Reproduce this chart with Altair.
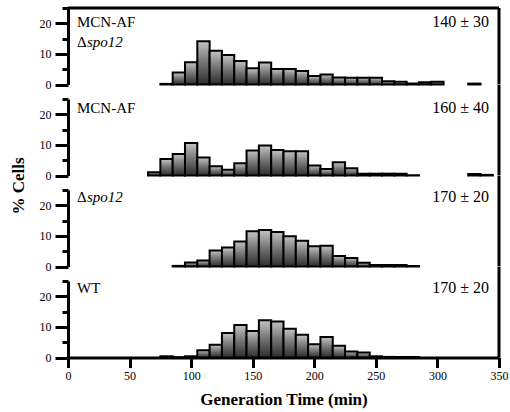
import altair as alt
import pandas as pd

# ---------------- data ----------------
centers_1 = [80, 90, 100, 110, 120, 130, 140, 150, 160, 170, 180, 190, 200, 210,
             220, 230, 240, 250, 260, 270, 280, 290, 300, 330]
values_1 = [0.2, 3.9, 7.3, 14.1, 11.0, 9.6, 7.7, 5.3, 7.2, 5.1, 5.1, 4.4, 2.8, 3.3,
            2.3, 2.2, 2.2, 2.2, 1.1, 0.9, 0.3, 0.7, 0.9, 0.3]

centers_2 = [70, 80, 90, 100, 110, 120, 130, 140, 150, 160, 170, 180, 190, 200,
             210, 220, 230, 240, 250, 260, 270, 280, 330, 340]
values_2 = [1.1, 5.4, 7.0, 10.6, 5.9, 3.0, 1.9, 4.0, 8.2, 9.8, 8.3, 7.9, 7.9, 3.3,
            2.1, 4.3, 2.4, 0.6, 0.6, 0.6, 0.6, 0.1, 0.5, 0.2]

centers_3 = [90, 100, 110, 120, 130, 140, 150, 160, 170, 180, 190, 200, 210, 220,
             230, 240, 250, 260, 270, 280]
values_3 = [0.2, 1.3, 2.0, 5.2, 6.2, 8.2, 11.5, 11.9, 11.3, 9.9, 8.4, 6.6, 6.8, 3.4,
            2.8, 1.2, 0.5, 0.5, 0.5, 0.2]

centers_4 = [80, 90, 100, 110, 120, 130, 140, 150, 160, 170, 180, 190, 200, 210,
             220, 230, 240, 250, 260, 270, 280]
values_4 = [0.4, 0.1, 0.4, 2.4, 4.2, 8.0, 10.6, 8.7, 12.2, 11.8, 9.4, 7.4, 4.3, 6.7,
            3.8, 2.0, 1.6, 0.4, 0.2, 0.2, 0.2]

panel_labels = [["MCN-AF", "Δspo12"], ["MCN-AF"], ["Δspo12"], ["WT"]]
panel_stats = ["140 ± 30", "160 ± 40", "170 ± 20", "170 ± 20"]
x_ticks = [0, 50, 100, 150, 200, 250, 300, 350]
y_ticks = [0, 5, 10, 15, 20, 25]
x_title = "Generation Time (min)"
y_title = "% Cells"
bin_width = 10

# ---------------- layout / style ----------------
W = 431
H = 76.5
GAP = 14
FONT = "Liberation Serif"
label_y = [19, 13.5, 12, 12]

grad = alt.Gradient(
    gradient="linear",
    stops=[alt.GradientStop(color="#c4c4c4", offset=0),
           alt.GradientStop(color="#7a7a7a", offset=0.45),
           alt.GradientStop(color="#2c2c2c", offset=1)],
    x1=0, x2=0, y1=0, y2=1,
)


def y_axis():
    return alt.Axis(
        values=y_ticks,
        labelExpr="datum.value % 10 === 0 ? datum.label : ''",
        tickSize={"condition": {"test": "datum.value % 10 === 0", "value": 13}, "value": 6},
        tickWidth=3, domainWidth=3, tickColor="black", domainColor="black",
        labelFont=FONT, labelFontSize=12, labelColor="black", labelPadding=4,
        labelFlush=False, grid=False, title=None,
    )


def x_axis():
    return alt.Axis(
        values=x_ticks, tickSize=10, tickWidth=3, domainWidth=3,
        tickColor="black", domainColor="black",
        labelFont=FONT, labelFontSize=12, labelColor="black", labelPadding=3,
        labelFlush=False, grid=False, title=x_title, titleFont=FONT, titleFontSize=17,
        titleFontWeight="bold", titleColor="black", titlePadding=10,
    )


def panel(i, centers, values):
    bottom = i == 3
    df = pd.DataFrame({"center": centers, "value": values})
    bars = alt.Chart(df).transform_calculate(
        lo=f"datum.center - {bin_width / 2}", hi=f"datum.center + {bin_width / 2}"
    ).mark_bar(fill=grad, stroke="black", strokeWidth=2).encode(
        x=alt.X("lo:Q", scale=alt.Scale(domain=[0, 350], nice=False, zero=False),
                axis=x_axis() if bottom else None, title=x_title if bottom else None),
        x2="hi:Q",
        y=alt.Y("value:Q", scale=alt.Scale(domain=[0, 25], nice=False), axis=y_axis()),
        y2=alt.datum(0),
    )
    layers = [bars]
    one = pd.DataFrame({"a": [0]})
    # frame: right border (continuous through the gaps) and top border on first panel
    top = 0 if i == 0 else -GAP
    layers.append(alt.Chart(one).mark_rule(color="black", strokeWidth=3).encode(
        x=alt.value(W), y=alt.value(top), y2=alt.value(H)))
    if i == 0:
        layers.append(alt.Chart(one).mark_rule(color="black", strokeWidth=3).encode(
            x=alt.value(0), x2=alt.value(W), y=alt.value(0)))
    # labels
    for j, line in enumerate(panel_labels[i]):
        yy = label_y[i] + j * 20
        if line.startswith("Δ"):
            parts = [(line[0], "normal", 9), (line[1:], "italic", 19)]
        else:
            parts = [(line, "normal", 9)]
        for txt, style, xx in parts:
            layers.append(alt.Chart(pd.DataFrame({"t": [txt]})).mark_text(
                font=FONT, fontSize=15, fontStyle=style, align="left",
                baseline="alphabetic", color="black",
            ).encode(text="t:N", x=alt.value(xx), y=alt.value(yy)))
    layers.append(alt.Chart(pd.DataFrame({"t": [panel_stats[i]]})).mark_text(
        font=FONT, fontSize=16, align="right", baseline="alphabetic", color="black",
    ).encode(text="t:N", x=alt.value(W - 10), y=alt.value(label_y[i])))
    if i == 1:
        layers.append(alt.Chart(pd.DataFrame({"t": [y_title]})).mark_text(
            font=FONT, fontSize=17, fontWeight="bold", angle=270, align="center",
            baseline="middle", color="black",
        ).encode(text="t:N", x=alt.value(-49.5), y=alt.value(87)))
    return alt.layer(*layers).properties(width=W, height=H)


panels = [panel(0, centers_1, values_1), panel(1, centers_2, values_2),
          panel(2, centers_3, values_3), panel(3, centers_4, values_4)]

chart = alt.vconcat(*panels, spacing=GAP, bounds="flush").properties(
    padding={"left": 9, "top": 6, "right": 1, "bottom": 4},
    background="white",
).configure_view(stroke=None)

chart.save("out.html", embed_options={"renderer": "svg", "actions": False})
